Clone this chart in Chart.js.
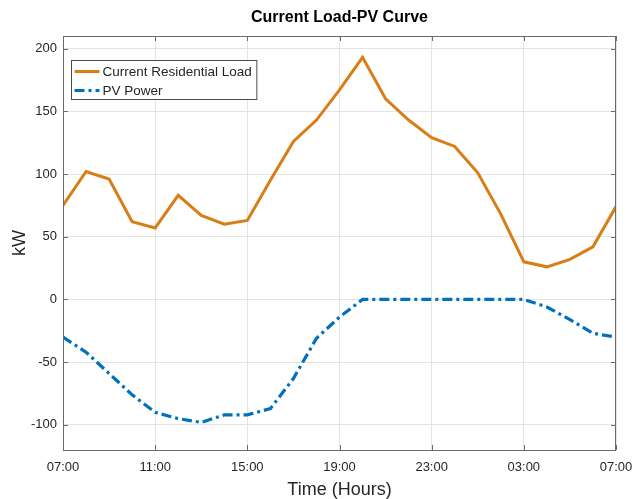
<!DOCTYPE html>
<html>
<head>
<meta charset="utf-8">
<title>Current Load-PV Curve</title>
<script src="https://cdn.jsdelivr.net/npm/chart.js@4.4.1/dist/chart.umd.min.js"></script>
<style>
  html, body { margin: 0; padding: 0; background: #fff; }
  #wrap { width: 633px; height: 499px; }
</style>
</head>
<body>
<div id="wrap"><canvas id="loadPv" width="633" height="499"></canvas></div>
<script>
/* hourly samples, 07:00 through 07:00 the next morning */
const timeLabels = [
  "07:00", "08:00", "09:00", "10:00", "11:00", "12:00", "13:00", "14:00",
  "15:00", "16:00", "17:00", "18:00", "19:00", "20:00", "21:00", "22:00",
  "23:00", "00:00", "01:00", "02:00", "03:00", "04:00", "05:00", "06:00", "07:00"
];
const loadKW = [75, 102, 96, 62, 57, 83, 67, 60, 63, 95, 126, 143, 167, 193, 160, 143,
                129, 122, 101, 68, 30, 26, 32, 42, 74];
const pvKW = [-30, -42, -59, -76, -90, -95, -98, -92, -92, -87, -63, -31, -14, 0, 0, 0,
              0, 0, 0, 0, 0, -6, -16, -27, -30];
const xTickIdx = [0, 4, 8, 12, 16, 20, 24];
const yTickVals = [-100, -50, 0, 50, 100, 150, 200];

const FONT = "'Liberation Sans', Arial, Helvetica, sans-serif";
const AXIS = "#6b6b6b";
const GRID = "#e4e4e4";
const TXT = "#262626";
const ORANGE = "#D97E16";
const BLUE = "#0072BD";

const toPts = arr => arr.map((v, i) => ({ x: i, y: v }));

// MATLAB-style box, inward ticks, title and framed legend
const axesBox = {
  id: "axesBox",
  afterDraw(chart) {
    const { ctx, chartArea: a, scales } = chart;
    const tl = 5;
    ctx.save();
    ctx.strokeStyle = AXIS;
    ctx.lineWidth = 1;
    ctx.strokeRect(Math.round(a.left) + 0.5, Math.round(a.top) + 0.5,
                   Math.round(a.right - a.left) - 1, Math.round(a.bottom - a.top));
    ctx.beginPath();
    scales.x.ticks.forEach(t => {
      const px = Math.round(scales.x.getPixelForValue(t.value)) + 0.5;
      ctx.moveTo(px, a.bottom); ctx.lineTo(px, a.bottom - tl);
      ctx.moveTo(px, a.top); ctx.lineTo(px, a.top + tl);
    });
    scales.y.ticks.forEach(t => {
      const py = Math.round(scales.y.getPixelForValue(t.value)) + 0.5;
      ctx.moveTo(a.left, py); ctx.lineTo(a.left + tl, py);
      ctx.moveTo(a.right, py); ctx.lineTo(a.right - tl, py);
    });
    ctx.stroke();

    // title, centred over the plot area
    ctx.fillStyle = "#000";
    ctx.font = "bold 16px " + FONT;
    ctx.textAlign = "center";
    ctx.textBaseline = "middle";
    ctx.fillText("Current Load-PV Curve", (a.left + a.right) / 2, 18);

    // legend
    const sets = chart.data.datasets;
    ctx.font = "13.5px " + FONT;
    const textW = Math.max(...sets.map(d => ctx.measureText(d.label).width));
    const bx = a.left + 8.5, by = a.top + 24.5, rowH = 19;
    const bw = 32 + textW + 4, bh = sets.length * rowH + 1;
    ctx.fillStyle = "#fff";
    ctx.fillRect(bx, by, bw, bh);
    ctx.strokeStyle = "#4a4a4a";
    ctx.strokeRect(bx, by, bw, bh);
    sets.forEach((d, i) => {
      const cy = by + 11 + i * rowH;
      ctx.strokeStyle = d.borderColor;
      ctx.lineWidth = d.borderWidth;
      ctx.setLineDash(d.borderDash || []);
      ctx.beginPath();
      ctx.moveTo(bx + 3, cy); ctx.lineTo(bx + 28, cy);
      ctx.stroke();
      ctx.setLineDash([]);
      ctx.fillStyle = TXT;
      ctx.textAlign = "left";
      ctx.fillText(d.label, bx + 31, cy + 1);
    });
    ctx.restore();
  }
};

new Chart(document.getElementById("loadPv"), {
  type: "line",
  data: {
    datasets: [
      {
        label: "Current Residential Load",
        data: toPts(loadKW),
        borderColor: ORANGE,
        borderWidth: 3,
        pointRadius: 0,
        tension: 0,
        fill: false,
      },
      {
        label: "PV Power",
        data: toPts(pvKW),
        borderColor: BLUE,
        borderWidth: 3.2,
        borderDash: [10, 4, 3, 4],
        pointRadius: 0,
        tension: 0,
        fill: false,
      },
    ],
  },
  options: {
    responsive: false,
    animation: false,
    layout: { padding: { top: 36, right: 17, left: 0, bottom: 0 } },
    plugins: {
      legend: { display: false },
      title: { display: false },
      tooltip: { enabled: false },
    },
    scales: {
      x: {
        type: "linear",
        min: 0,
        max: 24,
        afterBuildTicks: s => { s.ticks = xTickIdx.map(v => ({ value: v })); },
        afterFit: s => { s.height = 49; s.paddingLeft = 0; s.paddingRight = 0; },
        grid: { color: GRID, drawTicks: false },
        border: { display: false },
        ticks: {
          padding: 10,
          color: TXT,
          font: { family: FONT, size: 13 },
          maxRotation: 0,
          callback: v => timeLabels[v],
        },
        title: {
          display: true,
          text: "Time (Hours)",
          color: TXT,
          font: { family: FONT, size: 18, lineHeight: 1 },
          padding: { top: 0, bottom: 0 },
        },
      },
      y: {
        min: -120,
        max: 210,
        afterBuildTicks: s => { s.ticks = yTickVals.map(v => ({ value: v })); },
        afterFit: s => { s.width = 63; s.paddingTop = 0; s.paddingBottom = 0; },
        grid: { color: GRID, drawTicks: false },
        border: { display: false },
        ticks: {
          padding: 6,
          color: TXT,
          font: { family: FONT, size: 13 },
        },
        title: {
          display: true,
          text: "kW",
          color: TXT,
          font: { family: FONT, size: 18 },
          padding: { top: 9, bottom: 0 },
        },
      },
    },
  },
  plugins: [axesBox],
});
</script>
</body>
</html>
